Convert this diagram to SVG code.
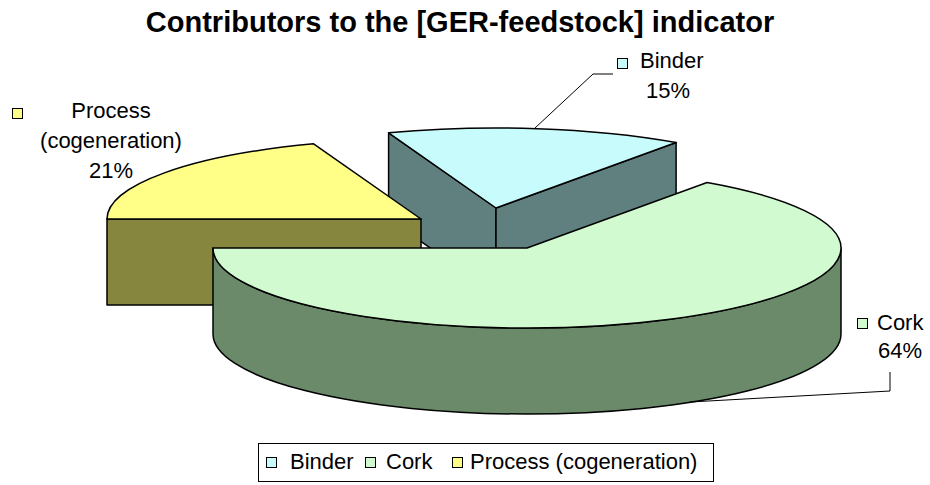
<svg xmlns="http://www.w3.org/2000/svg" width="930" height="485" viewBox="0 0 930 485">
<style>
.t{font-family:"Liberation Sans",Arial,sans-serif;font-size:22px;fill:#000}
.title{font-family:"Liberation Sans",Arial,sans-serif;font-size:29px;font-weight:bold;fill:#000}
.o{stroke:#000;stroke-width:1.5;stroke-linejoin:round}
.binT{fill:#C8FCFC}.binS{fill:#608080}
.corT{fill:#D2FAD0}.corS{fill:#6A8A6A}
.proT{fill:#FFFF88}.proS{fill:#86863E}
.ln{fill:none;stroke:#000;stroke-width:1}
</style>
<rect width="930" height="485" fill="#fff"/>
<text class="title" x="460" y="32" text-anchor="middle">Contributors to the [GER-feedstock] indicator</text>
<g id="binder">
<path class="o binS" d="M388.6,132.8 L496,208 L496,294 L388.6,218.8 Z"/>
<path class="o binS" d="M496,208 L676.1,142.5 L676.1,228.5 L496,294 Z"/>
<path class="o binT" d="M496,208 L388.6,132.8 A314,80 0 0,1 676.1,142.5 Z"/>
</g>
<g id="process">
<path class="o proS" d="M107,219 L421,219 L421,305 L107,305 Z"/>
<path class="o proT" d="M421,219 L313.6,143.8 A314,80 0 0,0 107,219 Z"/>
</g>
<g id="cork">
<path class="o corS" d="M841,248 A314,80 0 0,1 213,248 L213,334 A314,80 0 0,0 841,334 Z"/>
<path class="o corT" d="M527,248 L707.1,182.5 A314,80 0 1,1 213,248 Z"/>
</g>
<g id="connectors">
<polyline class="ln" points="613,74 593,74 535,128"/>
<polyline class="ln" points="890,372 890,391 690,402"/>
</g>
<g id="label-binder">
<rect class="binT" x="617.5" y="58.5" width="10" height="10" stroke="#000" stroke-width="1"/>
<text class="t" x="640" y="68">Binder</text>
<text class="t" x="668" y="98" text-anchor="middle">15%</text>
</g>
<g id="label-cork">
<rect class="corT" x="857.5" y="318.5" width="10" height="10" stroke="#000" stroke-width="1"/>
<text class="t" x="877" y="330">Cork</text>
<text class="t" x="900" y="358" text-anchor="middle">64%</text>
</g>
<g id="label-process">
<rect class="proT" x="12.5" y="108.5" width="10" height="10" stroke="#000" stroke-width="1"/>
<text class="t" x="111" y="118" text-anchor="middle">Process</text>
<text class="t" x="111" y="148" text-anchor="middle">(cogeneration)</text>
<text class="t" x="111" y="178" text-anchor="middle">21%</text>
</g>
<g id="legend">
<rect x="258.5" y="443.5" width="455" height="38" fill="#fff" stroke="#000" stroke-width="1"/>
<rect class="binT" x="266.5" y="457.5" width="10" height="10" stroke="#000" stroke-width="1"/>
<text class="t" x="290" y="469">Binder</text>
<rect class="corT" x="365.5" y="457.5" width="10" height="10" stroke="#000" stroke-width="1"/>
<text class="t" x="386" y="469">Cork</text>
<rect class="proT" x="452.5" y="457.5" width="10" height="10" stroke="#000" stroke-width="1"/>
<text class="t" x="470" y="469">Process (cogeneration)</text>
</g>
</svg>
